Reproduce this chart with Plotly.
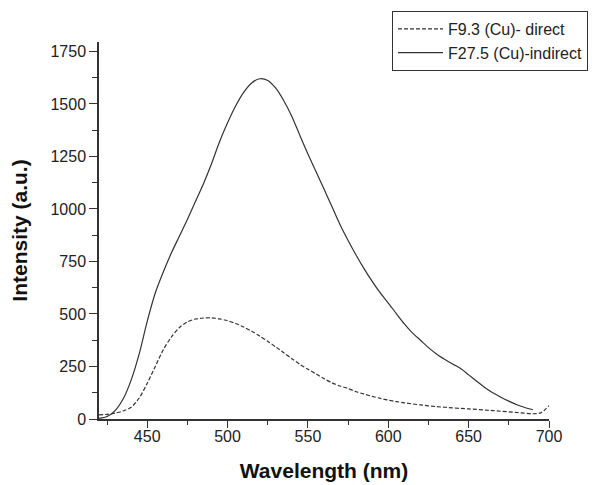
import plotly.graph_objects as go

# Data
wl_indirect = [420, 425, 430, 435, 440, 445, 450, 455, 460, 465, 470, 475, 480, 485, 490,
               495, 500, 505, 510, 515, 520, 525, 530, 535, 540, 545, 550, 555, 560, 565,
               570, 575, 580, 585, 590, 595, 600, 605, 610, 615, 620, 625, 630, 635, 640,
               645, 650, 655, 660, 665, 670, 675, 680, 685, 690]
int_indirect = [3, 12, 40, 95, 185, 310, 465, 600, 700, 790, 870, 950, 1035, 1120, 1215,
                1320, 1410, 1490, 1555, 1600, 1620, 1612, 1575, 1515, 1440, 1350, 1262, 1178, 1095, 1010,
                925, 850, 780, 715, 655, 600, 552, 502, 453, 410, 375, 340, 310, 285, 262,
                240, 210, 180, 150, 125, 104, 85, 68, 55, 44]

wl_direct = [420, 425, 430, 435, 440, 445, 450, 455, 460, 465, 470, 475, 480, 485, 490,
             495, 500, 505, 510, 515, 520, 525, 530, 535, 540, 545, 550, 555, 560, 565,
             570, 575, 580, 585, 590, 595, 600, 605, 610, 620, 630, 640, 650, 660, 670,
             680, 690, 695, 700]
int_direct = [20, 22, 28, 38, 56, 100, 170, 250, 330, 390, 435, 462, 476, 481, 482,
              477, 468, 455, 438, 418, 395, 370, 343, 315, 287, 260, 237, 215, 192, 172,
              157, 145, 130, 118, 108, 98, 90, 83, 77, 67, 59, 53, 48, 43, 37,
              31, 25, 30, 64]

name_direct = "F9.3 (Cu)- direct"
name_indirect = "F27.5 (Cu)-indirect"

FONT = "Liberation Sans, Arial, sans-serif"

fig = go.Figure()
fig.add_trace(go.Scatter(x=wl_direct, y=int_direct, mode="lines", name=name_direct,
                         line=dict(color="#333333", width=1.2, dash="4px,2px", shape="spline", smoothing=0.8)))
fig.add_trace(go.Scatter(x=wl_indirect, y=int_indirect, mode="lines", name=name_indirect,
                         line=dict(color="#333333", width=1.2, shape="spline", smoothing=0.8)))

fig.update_layout(
    width=602, height=485,
    margin=dict(l=91, r=61, t=34, b=74, autoexpand=False),
    paper_bgcolor="white", plot_bgcolor="white",
    font=dict(family=FONT, size=16, color="#222222"),
    showlegend=True,
    legend=dict(x=384/602, y=1 - 3/485, xref="container", yref="container",
                xanchor="left", yanchor="top",
                bordercolor="#333333", borderwidth=1, bgcolor="white",
                font=dict(family=FONT, size=16, color="#222222"),
                tracegroupgap=0, itemwidth=45),
    xaxis=dict(range=[420, 700], tickmode="array", tickvals=[450, 500, 550, 600, 650, 700],
               ticks="outside", ticklen=7, tickwidth=1.2, tickcolor="#333333",
               ticklabelstandoff=-5,
               showline=True, linecolor="#333333", linewidth=1.5, showgrid=False, zeroline=False,
               minor=dict(ticks="outside", ticklen=4, tickwidth=1.2, tickcolor="#333333",
                          tickmode="array", tickvals=[425, 475, 525, 575, 625, 675]),
               title=dict(text="<b>Wavelength (nm)</b>", font=dict(size=21, family=FONT, color="#111111"), standoff=19)),
    yaxis=dict(range=[0, 1795], tickmode="array", tickvals=[0, 250, 500, 750, 1000, 1250, 1500, 1750],
               ticks="outside", ticklen=8, tickwidth=1.2, tickcolor="#333333",
               showline=True, linecolor="#333333", linewidth=1.5, showgrid=False, zeroline=False,
               minor=dict(ticks="outside", ticklen=5, tickwidth=1.2, tickcolor="#333333",
                          tickmode="array", tickvals=[125, 375, 625, 875, 1125, 1375, 1625]),
               title=dict(text="<b>Intensity (a.u.)</b>", font=dict(size=21, family=FONT, color="#111111"), standoff=22)),
)

fig.write_html("out.html")
